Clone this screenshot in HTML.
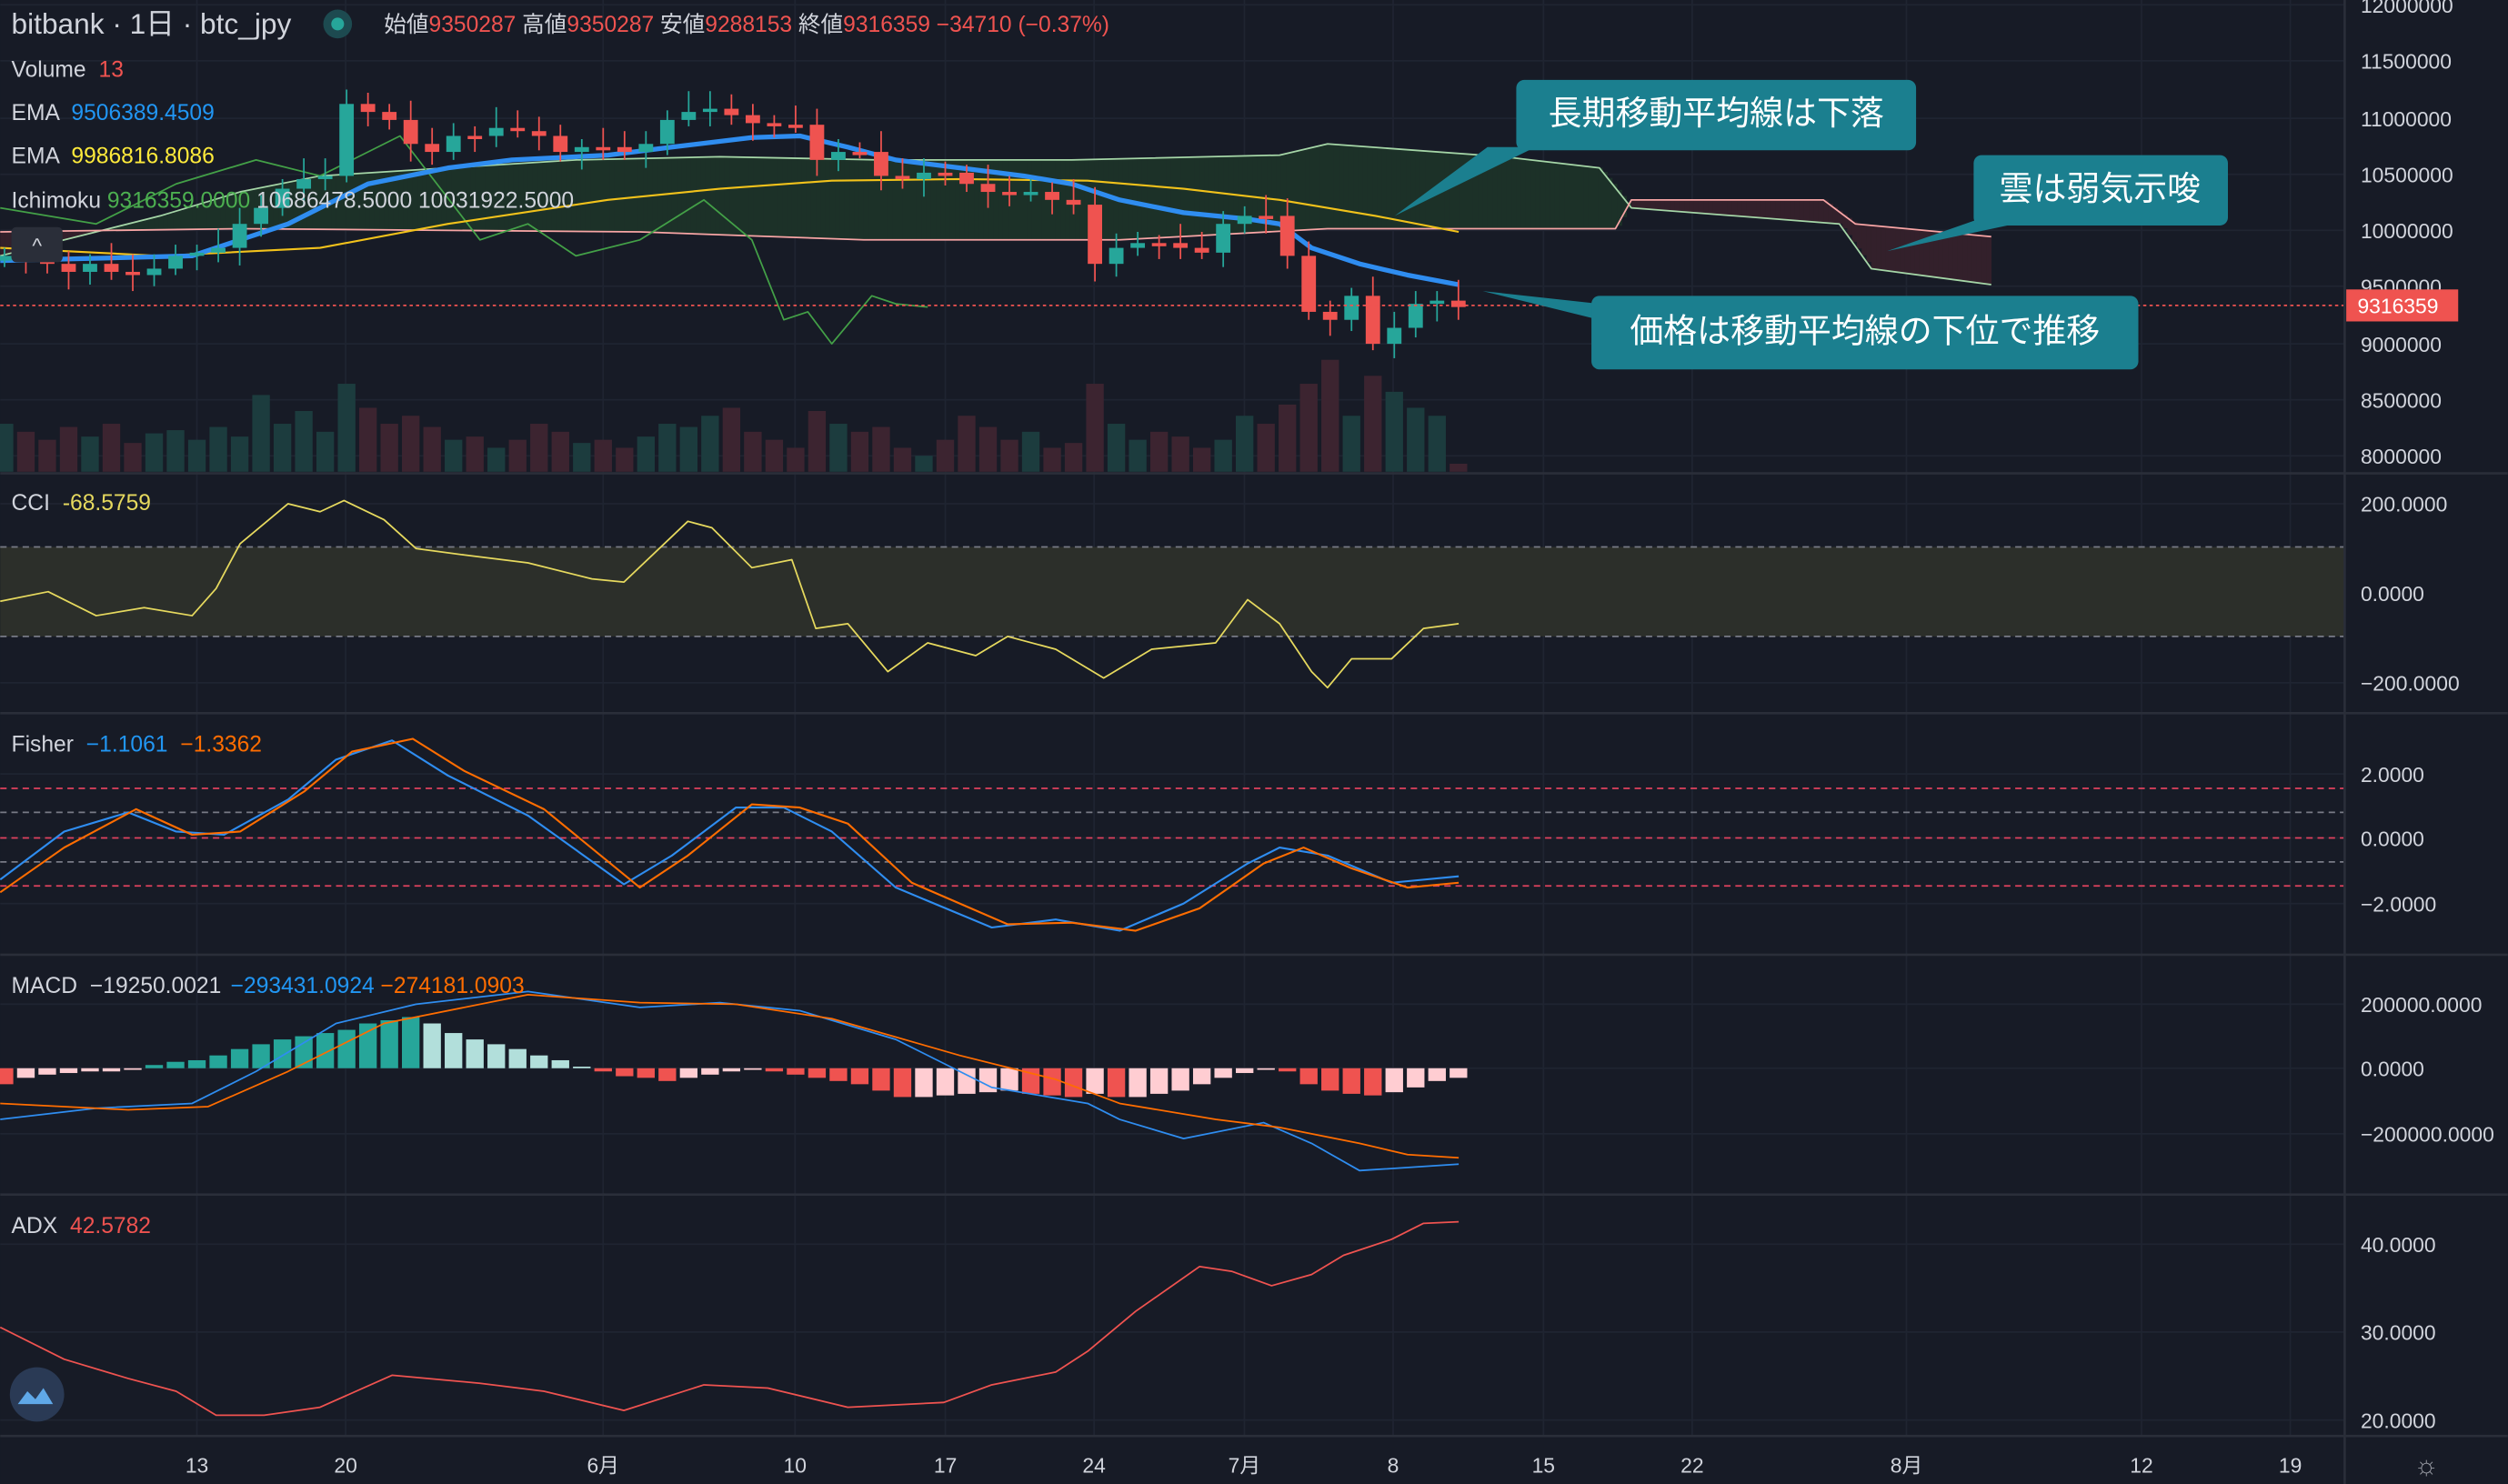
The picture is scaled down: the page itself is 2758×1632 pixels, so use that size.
<!DOCTYPE html><html><head><meta charset="utf-8"><style>
html,body{margin:0;padding:0;background:#171b26;overflow:hidden}
svg{display:block}
text{font-family:"Liberation Sans","Noto Sans CJK JP",sans-serif}
</style></head><body>
<svg id="c" width="2758" height="1632" viewBox="0 0 1568 928" xmlns="http://www.w3.org/2000/svg">
<rect width="1568" height="928" fill="#171b26"/>
<g id="grid" stroke="#1f2431" stroke-width="1"></g>
<rect x="0" y="342" width="1466" height="56" fill="#2c2f2a"/>
<g stroke="#787b86" stroke-dasharray="4,3" stroke-width="1">
<line x1="0" y1="342" x2="1466" y2="342"/><line x1="0" y1="398" x2="1466" y2="398"/>
<line x1="0" y1="508" x2="1466" y2="508"/><line x1="0" y1="539" x2="1466" y2="539"/>
</g>
<g stroke="#e0425e" stroke-dasharray="4,3" stroke-width="1">
<line x1="0" y1="493" x2="1466" y2="493"/><line x1="0" y1="524" x2="1466" y2="524"/><line x1="0" y1="554" x2="1466" y2="554"/>
</g>
<g id="cloud"></g>
<g id="vol"></g>
<g id="lines"></g>
<g id="candles"></g>
<line x1="0" y1="191" x2="1466" y2="191" stroke="#ef5350" stroke-dasharray="2,2" stroke-width="1"/>
<g stroke="#2a2e39" stroke-width="1.5">
<line x1="0" y1="296" x2="1568" y2="296"/><line x1="0" y1="446" x2="1568" y2="446"/>
<line x1="0" y1="597" x2="1568" y2="597"/><line x1="0" y1="747" x2="1568" y2="747"/>
<line x1="0" y1="898" x2="1568" y2="898"/><line x1="1466" y1="0" x2="1466" y2="928"/>
</g>
<g>
<polygon points="872,135 930,92 960,92" fill="#1b7f8f"/>
<rect x="948" y="50" width="250" height="44" rx="5" fill="#1b7f8f"/>
<text x="1073" y="78" fill="#fff" font-size="21" text-anchor="middle">長期移動平均線は下落</text>
<polygon points="1180,157 1240,136 1255,141" fill="#1b7f8f"/>
<rect x="1234" y="97" width="159" height="44" rx="5" fill="#1b7f8f"/>
<text x="1313" y="125" fill="#fff" font-size="21" text-anchor="middle">雲は弱気示唆</text>
<polygon points="927,182 1000,190 1000,200" fill="#1b7f8f"/>
<rect x="995" y="185" width="342" height="46" rx="5" fill="#1b7f8f"/>
<text x="1166" y="214" fill="#fff" font-size="21" text-anchor="middle">価格は移動平均線の下位で推移</text>
</g>
<g font-size="15" fill="#d1d4dc">
<text x="7" y="21" font-size="18">bitbank · 1日 · btc_jpy</text>
<circle cx="211" cy="15" r="9" fill="#1d4a50"/><circle cx="211" cy="15" r="4" fill="#26a69a"/>
<text x="240" y="20" font-size="14">始値<tspan fill="#ef5350">9350287</tspan> 高値<tspan fill="#ef5350">9350287</tspan> 安値<tspan fill="#ef5350">9288153</tspan> 終値<tspan fill="#ef5350">9316359</tspan> <tspan fill="#ef5350">−34710 (−0.37%)</tspan></text>
<text x="7" y="48" font-size="14">Volume <tspan fill="#ef5350" dx="4">13</tspan></text>
<text x="7" y="75" font-size="14">EMA <tspan fill="#2196f3" dx="4">9506389.4509</tspan></text>
<text x="7" y="102" font-size="14">EMA <tspan fill="#ffeb3b" dx="4">9986816.8086</tspan></text>
<text x="7" y="130" font-size="14">Ichimoku <tspan fill="#4caf50">9316359.0000</tspan> 10686478.5000 10031922.5000</text>
<rect x="7" y="142" width="32" height="22" rx="3" fill="#2a2e39"/>
<text x="23" y="158" font-size="13" text-anchor="middle">^</text>
<text x="7" y="319" font-size="14">CCI <tspan fill="#e6d95e" dx="4">-68.5759</tspan></text>
<text x="7" y="470" font-size="14">Fisher <tspan fill="#2196f3" dx="4">−1.1061</tspan> <tspan fill="#ff6d00" dx="4">−1.3362</tspan></text>
<text x="7" y="621" font-size="14">MACD <tspan dx="4">−19250.0021</tspan> <tspan fill="#2196f3" dx="2">−293431.0924</tspan> <tspan fill="#ff6d00">−274181.0903</tspan></text>
<text x="7" y="771" font-size="14">ADX <tspan fill="#ef5350" dx="4">42.5782</tspan></text>
</g>
<circle cx="23" cy="872" r="17" fill="#2a3a55"/>
<path d="M11,878 l6,-8 l5,5 l5,-7 l6,10 z" fill="#5fa8e8"/>
<g id="axis" font-size="13" fill="#d1d4dc"></g>
<rect x="1467" y="181" width="70" height="20" fill="#ef5350"/>
<text x="1474" y="196" font-size="13" fill="#fff">9316359</text>
<g font-size="13" fill="#d1d4dc" text-anchor="middle">
<text x="123" y="921">13</text><text x="216" y="921">20</text><text x="377" y="921">6月</text><text x="497" y="921">10</text>
<text x="591" y="921">17</text><text x="684" y="921">24</text><text x="778" y="921">7月</text><text x="871" y="921">8</text>
<text x="965" y="921">15</text><text x="1058" y="921">22</text><text x="1192" y="921">8月</text><text x="1339" y="921">12</text><text x="1432" y="921">19</text>
<text x="1517" y="922" font-size="17" fill="#9598a1">☼</text>
</g>
</svg>
<script>
const NS="http://www.w3.org/2000/svg";
function el(p,t,a){const e=document.createElementNS(NS,t);for(const k in a)e.setAttribute(k,a[k]);document.getElementById(p).appendChild(e);return e;}
function path(p,pts,col,w){el(p,'path',{d:'M'+pts.map(q=>q.join(',')).join(' L'),fill:'none',stroke:col,'stroke-width':w||1,'stroke-linejoin':'round'});}
[123,216,377,497,591,684,778,871,965,1058,1192,1339,1432].forEach(x=>el('grid','line',{x1:x,y1:0,x2:x,y2:898}));
[3,38,74,109,144,179,215,250,285,315,371,427,484,524,565,628,668,709,778,833,888].forEach(y=>el('grid','line',{x1:0,y1:y,x2:1466,y2:y}));
const ax=[[3,'12000000'],[38,'11500000'],[74,'11000000'],[109,'10500000'],[144,'10000000'],[179,'9500000'],[215,'9000000'],[250,'8500000'],[285,'8000000'],
[315,'200.0000'],[371,'0.0000'],[427,'−200.0000'],[484,'2.0000'],[524,'0.0000'],[565,'−2.0000'],[628,'200000.0000'],[668,'0.0000'],[709,'−200000.0000'],[778,'40.0000'],[833,'30.0000'],[888,'20.0000']];
ax.forEach(a=>{const t=el('axis','text',{x:1476,y:a[0]+5});t.textContent=a[1];});
const cl=[160,162,165,170,165,170,172,168,160,158,155,140,130,118,112,110,65,70,75,90,95,85,85,80,82,85,95,92,92,95,90,75,70,68,72,77,78,78,100,95,95,110,112,108,108,115,120,122,120,125,128,165,155,152,152,155,158,140,135,135,160,195,200,185,215,205,190,188,192];
const vol=[30,25,20,28,22,30,18,24,26,20,28,22,48,30,38,25,55,40,30,35,28,20,22,15,20,30,25,18,20,15,22,30,28,35,40,25,20,15,38,30,25,28,15,10,20,35,28,20,25,15,18,55,30,20,25,22,15,20,35,30,42,55,70,35,60,50,40,35,5];
const x0=123-9*13.37;let prev=163;
cl.forEach((c,i)=>{const x=x0+i*13.37;const o=prev;prev=c;const up=c<o;const col=up?'#26a69a':'#ef5350';
const top=Math.min(o,c),bot=Math.max(o,c);
el('candles','line',{x1:x,y1:top-5-(i*7%9),x2:x,y2:bot+4+(i*5%8),stroke:col,'stroke-width':1});
el('candles','rect',{x:x-4.5,y:top,width:9,height:Math.max(bot-top,2),fill:col});
const v=vol[i];el('vol','rect',{x:x-5.5,y:295-v,width:11,height:v,fill:up?'#1c3c3e':'#3c2430'});});
const A=[[0,160],[100,135],[150,120],[200,110],[280,105],[360,100],[450,98],[550,100],[670,100],[800,97],[830,90],[940,98],[1000,105],[1020,130],[1150,140],[1170,168],[1245,178]];
const B=[[0,145],[150,143],[400,145],[540,150],[700,150],[830,143],[1010,143],[1020,125],[1140,125],[1160,140],[1245,148]];
function interp(arr,x){for(let i=1;i<arr.length;i++)if(x<=arr[i][0]){const a=arr[i-1],b=arr[i];return a[1]+(b[1]-a[1])*(x-a[0])/(b[0]-a[0]);}return arr[arr.length-1][1];}
for(let x=0;x<1245;x+=3){const a=interp(A,x),b=interp(B,x);el('cloud','rect',{x:x,y:Math.min(a,b),width:3.2,height:Math.abs(a-b),fill:a<b?'#1c3128':'#33202b'});}
path('lines',A,'#a5d6a7',1);path('lines',B,'#f8a5a5',1);
path('lines',[[0,130],[60,140],[110,115],[160,100],[200,110],[250,85],[300,150],[330,140],[360,160],[400,150],[440,125],[470,150],[490,200],[505,195],[520,215],[545,185],[560,190],[580,192]],'#43a047',1);
path('lines',[[0,155],[100,160],[200,155],[280,140],[380,125],[450,118],[520,113],[600,112],[680,113],[740,118],[800,125],[860,135],[912,145]],'#f2c21b',1.2);
path('lines',[[0,163],[120,160],[180,140],[230,115],[280,105],[320,100],[380,97],[420,92],[470,86],[500,85],[530,92],[560,100],[600,105],[640,110],[670,115],[700,125],[740,133],[780,137],[800,140],[820,155],[850,165],[880,172],[912,178]],'#2f8df0',3);
path('lines',[[0,376],[30,370],[60,385],[90,380],[120,385],[135,368],[150,340],[180,315],[200,320],[215,313],[240,325],[260,343],[290,347],[330,352],[370,362],[390,364],[430,326],[445,330],[470,355],[495,350],[510,393],[530,390],[555,420],[580,402],[610,410],[630,398],[660,406],[690,424],[720,406],[760,402],[780,375],[800,390],[820,420],[830,430],[845,412],[870,412],[890,393],[912,390]],'#e6d95e',1);
path('lines',[[0,550],[40,520],[80,508],[110,520],[140,522],[180,500],[210,475],[245,463],[280,485],[330,510],[390,553],[420,535],[460,505],[490,505],[520,520],[560,555],[620,580],[660,575],[700,582],[740,565],[780,540],[800,530],[830,535],[870,552],[912,548]],'#2f8df0',1.2);
path('lines',[[0,558],[40,530],[85,506],[120,522],[150,520],[190,495],[220,470],[258,462],[290,482],[340,506],[400,555],[430,535],[470,503],[500,505],[530,515],[570,552],[630,578],[670,577],[710,582],[750,568],[790,540],[815,530],[845,543],[880,555],[912,552]],'#ff6d00',1.2);
const h=[-10,-6,-4,-3,-2,-2,-1,2,4,5,8,12,15,18,20,22,24,28,30,32,28,22,18,15,12,8,5,1,-2,-5,-6,-8,-6,-4,-2,0,-2,-4,-6,-8,-10,-14,-18,-18,-17,-16,-15,-14,-16,-17,-18,-16,-18,-18,-16,-14,-10,-6,-3,0,-2,-10,-14,-16,-17,-15,-12,-8,-6];
h.forEach((v,i)=>{const x=x0+i*13.37;const pos=v>0,grow=i>0?Math.abs(v)>Math.abs(h[i-1]):true;
const col=pos?(grow?'#26a69a':'#b2dfdb'):(grow?'#ef5350':'#ffcdd2');
el('vol','rect',{x:x-5.5,y:pos?668-v:668,width:11,height:Math.max(Math.abs(v),1),fill:col});});
path('lines',[[0,700],[60,693],[120,690],[160,670],[210,640],[260,628],[330,620],[400,630],[450,627],[500,632],[560,650],[620,680],[680,690],[700,700],[740,712],[790,702],[820,715],[850,732],[912,728]],'#2f8df0',1);
path('lines',[[0,690],[80,694],[130,692],[180,670],[240,640],[330,622],[400,627],[460,628],[520,637],[600,660],[660,675],[700,690],[760,700],[800,705],[850,715],[880,722],[912,724]],'#ff6d00',1);
path('lines',[[0,830],[40,850],[80,862],[110,870],[135,885],[165,885],[200,880],[245,860],[300,865],[340,870],[390,882],[440,866],[480,868],[530,880],[590,877],[620,866],[660,858],[680,845],[710,820],[750,792],[770,795],[795,804],[820,797],[840,785],[870,775],[890,765],[912,764]],'#ef5350',1);
</script>
</body></html>
